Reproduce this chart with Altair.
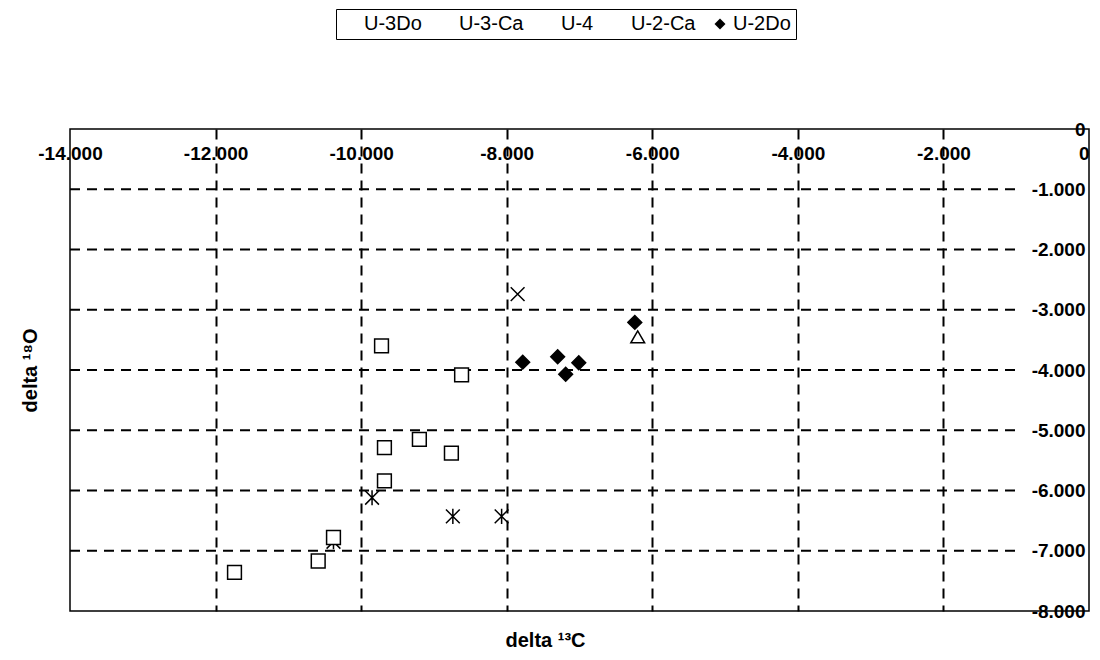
import altair as alt
import pandas as pd

series_order = ["U-3Do", "U-3-Ca", "U-4", "U-2-Ca", "U-2Do"]

u3do_x = [-6.20]
u3do_y = [-3.45]
u3ca_x = [-7.85]
u3ca_y = [-2.74]
u4_x = [-10.38, -9.85, -8.74, -8.07]
u4_y = [-6.85, -6.12, -6.43, -6.43]
u2ca_x = [-9.72, -8.62, -9.68, -9.20, -8.76, -9.68, -10.38, -10.59, -11.74]
u2ca_y = [-3.60, -4.08, -5.29, -5.15, -5.38, -5.84, -6.78, -7.17, -7.36]
u2do_x = [-7.78, -7.30, -7.19, -7.01, -6.24]
u2do_y = [-3.87, -3.78, -4.07, -3.88, -3.21]

x_ticks = [-14, -12, -10, -8, -6, -4, -2, 0]
y_ticks = [-8, -7, -6, -5, -4, -3, -2, -1, 0]
y_grid = [-7, -6, -5, -4, -3, -2, -1]
grid_x_start = -14
grid_x_end = -0.95

rows = []
for name, xs, ys in [("U-4", u4_x, u4_y), ("U-3-Ca", u3ca_x, u3ca_y), ("U-3Do", u3do_x, u3do_y),
                     ("U-2Do", u2do_x, u2do_y), ("U-2-Ca", u2ca_x, u2ca_y)]:
    for a, b in zip(xs, ys):
        rows.append({"series": name, "d13C": a, "d18O": b})
df = pd.DataFrame(rows)

grid_df = pd.DataFrame({"gy": y_grid, "gx1": [grid_x_start] * len(y_grid),
                        "gx2": [grid_x_end] * len(y_grid)})

X_PATH = "M-1,-1L1,1M-1,1L1,-1"
AST_PATH = "M-1,-1L1,1M-1,1L1,-1M0,-1.1L0,1.1"

W, H = 1019, 482
FONT = "Liberation Sans"

label_expr = "datum.value == 0 ? '0' : replace(format(datum.value, '.3f'), '\u2212', '-')"

xscale = alt.Scale(domain=[-14, 0], nice=False, zero=False)
yscale = alt.Scale(domain=[-8, 0], nice=False, zero=False)

legend = alt.Legend(title=None, orient="none", legendX=266, legendY=-120, direction="horizontal",
                    symbolStrokeColor="black")

points = alt.Chart(df).mark_point(opacity=1, strokeWidth=1.5, color="black", stroke="black",
                                  size=190).encode(
    x=alt.X("d13C:Q", scale=xscale,
            axis=alt.Axis(orient="bottom", offset=-H, values=x_ticks, labelExpr=label_expr,
                          domain=False, ticks=False, tickSize=0, labelPadding=24,
                          labelBaseline="middle", labelFont=FONT, labelFontSize=19,
                          labelFontWeight="bold", labelColor="black", labelOverlap=False,
                          labelFlush=False,
                          labelAlign={"condition": {"test": "datum.value == 0", "value": "right"},
                                      "value": "center"},
                          grid=True, gridColor="black", gridDash=[10, 7], gridWidth=2,
                          gridOpacity={"condition": {"test": "datum.value == 0 || datum.value == -14",
                                                     "value": 0}, "value": 1},
                          title="delta ¹³C", titleFont=FONT, titleFontSize=20, titleFontWeight="bold",
                          titleColor="black", titleX=475, titleY=511, titleBaseline="middle",
                          titleAnchor="middle")),
    y=alt.Y("d18O:Q", scale=yscale,
            axis=alt.Axis(orient="left", offset=-W, values=y_ticks, labelExpr=label_expr,
                          domain=False, ticks=False, tickSize=0, labelPadding=4,
                          labelFont=FONT, labelFontSize=19, labelFontWeight="bold",
                          labelColor="black", labelOverlap=False, labelFlush=False,
                          grid=False,
                          title="delta ¹⁸O", titleFont=FONT, titleFontSize=20, titleFontWeight="bold",
                          titleColor="black", titleX=-1059, titleY=241, titleAngle=270,
                          titleBaseline="middle", titleAnchor="middle")),
    shape=alt.Shape("series:N",
                    scale=alt.Scale(domain=series_order,
                                    range=["triangle-up", X_PATH, AST_PATH, "square", "diamond"]),
                    legend=legend),
    fill=alt.Fill("series:N",
                  scale=alt.Scale(domain=series_order,
                                  range=["white", "white", "white", "white", "black"]),
                  legend=legend),
)

grid = alt.Chart(grid_df).mark_rule(color="black", strokeWidth=2, strokeDash=[10, 7]).encode(
    x=alt.X("gx1:Q", scale=xscale),
    x2="gx2:Q",
    y=alt.Y("gy:Q", scale=yscale),
)

chart = alt.layer(grid, points).properties(
    width=W, height=H,
    padding={"left": 62, "top": 121, "right": 3, "bottom": 40},
    autosize=alt.AutoSizeParams(type="none"),
    background="white",
).configure_view(
    stroke="black", strokeWidth=1.5
).configure_legend(
    strokeColor="black", fillColor="white", padding=5, columnPadding=14,
    labelFont=FONT, labelFontSize=20, labelColor="black",
    symbolSize=120, symbolStrokeWidth=1.5, symbolStrokeColor="black", labelOffset=3
)

chart.save("out.html", embed_options={"renderer": "svg", "actions": False})
